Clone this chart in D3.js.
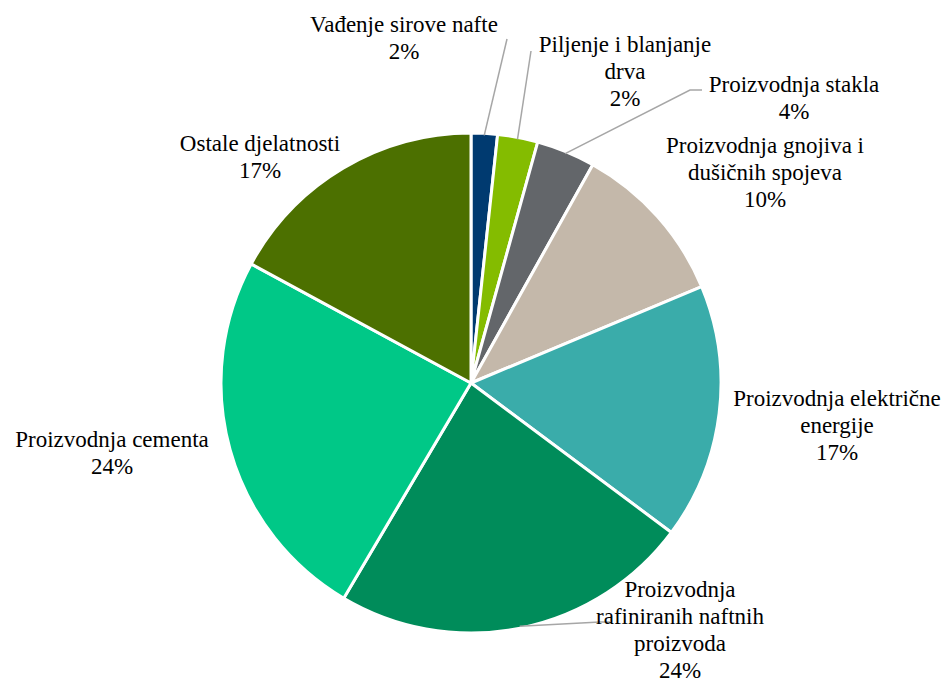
<!DOCTYPE html>
<html>
<head>
<meta charset="utf-8">
<script src="https://cdn.jsdelivr.net/npm/d3@7"></script>
<style>
  body { margin: 0; background: #fff; }
  svg text { font-family: "Liberation Serif", "Times New Roman", Times, serif !important; }
</style>
</head>
<body>
<script>
// Data
var categories = [
    "Vađenje sirove nafte",
    "Piljenje i blanjanje drva",
    "Proizvodnja stakla",
    "Proizvodnja gnojiva i dušičnih spojeva",
    "Proizvodnja električne energije",
    "Proizvodnja rafiniranih naftnih proizvoda",
    "Proizvodnja cementa",
    "Ostale djelatnosti"
];
var values = [1.7, 2.6, 3.8, 10.6, 16.5, 23.3, 24.4, 17.1];
var pctLabels = ["2%", "2%", "4%", "10%", "17%", "24%", "24%", "17%"];
var colors = ["#003a70", "#84bc00", "#63666a", "#c4b8aa", "#3aacaa", "#008c5a", "#00c887", "#4c7000"];

// label text lines as they wrap in the chart
var labelLines = [
    ["Vađenje sirove nafte"],
    ["Piljenje i blanjanje", "drva"],
    ["Proizvodnja stakla"],
    ["Proizvodnja gnojiva i", "dušičnih spojeva"],
    ["Proizvodnja električne", "energije"],
    ["Proizvodnja", "rafiniranih naftnih", "proizvoda"],
    ["Proizvodnja cementa"],
    ["Ostale djelatnosti"]
];

var width = 948, height = 684;
var cx = 471, cy = 383, radius = 250;

var svg = d3.select("body").append("svg")
    .attr("width", width)
    .attr("height", height)
    .attr("font-family", "Liberation Serif");

var g = svg.append("g")
    .attr("transform", "translate(" + cx + "," + cy + ")");

var pie = d3.pie().sort(null).value(function (d) { return d; });
var arc = d3.arc().innerRadius(0).outerRadius(radius);
var arcs = pie(values);

g.selectAll("path")
    .data(arcs)
    .enter().append("path")
    .attr("d", arc)
    .style("fill", function (d, i) { return colors[i]; })
    .style("stroke", "#fff")
    .style("stroke-width", 3)
    .style("stroke-linejoin", "round");

// label placement (page coords, first baseline + centre x)
var labelPos = [
    { x: 404, y: 32 },
    { x: 625, y: 52 },
    { x: 794, y: 92 },
    { x: 765, y: 153 },
    { x: 837, y: 406 },
    { x: 680, y: 597 },
    { x: 112, y: 447 },
    { x: 260, y: 151 }
];
var lineH = 27;

// leader lines: end points for the slices that have one
var leaders = {
    0: [[507, 39]],
    1: [[531, 51]],
    2: [[690, 90], [702, 90]],
    5: [[600, 622], [610, 622]]
};

function edgePoint(d, rr) {
    var a = (d.startAngle + d.endAngle) / 2;
    return [cx + Math.sin(a) * rr, cy - Math.cos(a) * rr];
}

var line = d3.line();
Object.keys(leaders).forEach(function (k) {
    var d = arcs[+k];
    var pts = [edgePoint(d, radius - 2)].concat(leaders[k]);
    svg.append("path")
        .attr("d", line(pts))
        .style("fill", "none")
        .style("stroke", "#a6a6a6")
        .style("stroke-width", 1.5);
});

// one text element per line
var labelRows = [];
arcs.forEach(function (d, i) {
    labelLines[i].concat([pctLabels[i]]).forEach(function (s, j) {
        labelRows.push({ text: s, x: labelPos[i].x, y: labelPos[i].y + j * lineH });
    });
});

svg.selectAll("text")
    .data(labelRows)
    .enter().append("text")
    .attr("text-anchor", "middle")
    .attr("x", function (d) { return d.x; })
    .attr("y", function (d) { return d.y; })
    .attr("font-family", "Liberation Serif")
    .style("font-family", '"Liberation Serif"')
    .style("font-size", "23px")
    .style("fill", "#000")
    .text(function (d) { return d.text; });
</script>
</body>
</html>
